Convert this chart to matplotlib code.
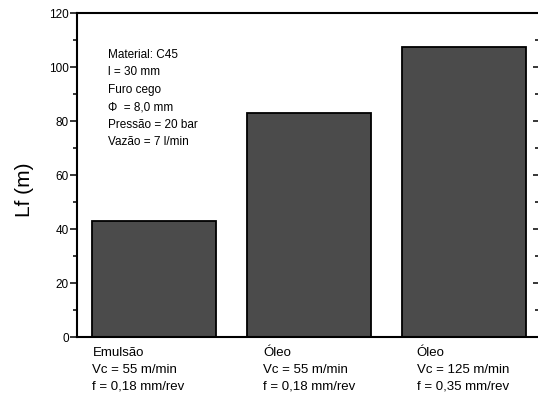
import matplotlib
matplotlib.use("Agg")
import matplotlib.pyplot as plt
from matplotlib.ticker import MultipleLocator
from matplotlib.transforms import blended_transform_factory

plt.rcParams['font.family'] = ['Liberation Sans', 'DejaVu Sans']

# Data
categories = ["Emulsão\nVc = 55 m/min\nf = 0,18 mm/rev",
              "Óleo\nVc = 55 m/min\nf = 0,18 mm/rev",
              "Óleo\nVc = 125 m/min\nf = 0,35 mm/rev"]
lf_values = [43, 83, 107.5]
info_lines = ["Material: C45", "l = 30 mm", "Furo cego",
              "\u03a6  = 8,0 mm", "Pressão = 20 bar", "Vazão = 7 l/min"]
y_ticks = [0, 20, 40, 60, 80, 100, 120]

fig = plt.figure(figsize=(5.38, 3.98), dpi=100)
# right edge sits just past the canvas so the right spine is cut off
ax = fig.add_axes([77 / 538, 1 - 337.3 / 398, 464 / 538, 324 / 398])

x = range(len(lf_values))
ax.bar(x, lf_values, width=0.8, color='#4b4b4b', edgecolor='black', linewidth=1.3)

ax.set_xlim(-0.5, 2.5)
ax.set_ylim(0, 120)
ax.set_yticks(y_ticks)
ax.yaxis.set_minor_locator(MultipleLocator(10))
ax.set_xticks([])

for s in ax.spines.values():
    s.set_linewidth(1.5)

ax.tick_params(axis='y', which='major', direction='out', length=5, width=1.1,
               labelsize=8.5, pad=1, right=True)
ax.tick_params(axis='y', which='minor', direction='out', length=3, width=1.1, right=True)
# ticks on the right side point inward
for t in ax.yaxis.get_major_ticks():
    t.tick2line.set_marker(matplotlib.lines.TICKLEFT)
    t.tick2line.set_markersize(6)
for t in ax.yaxis.get_minor_ticks():
    t.tick2line.set_marker(matplotlib.lines.TICKLEFT)
    t.tick2line.set_markersize(4)

fig.text(24 / 538, 1 - 190 / 398, "Lf (m)", rotation=90, fontsize=15,
         ha='center', va='center')

# condition labels under each bar
trans = blended_transform_factory(ax.transData, ax.transAxes)
label_left = [-0.4, 0.703, 1.697]
for xl, txt in zip(label_left, categories):
    ax.text(xl, -0.03, txt, transform=trans, ha='left', va='top',
            fontsize=9.5, linespacing=1.55, clip_on=False)

# experiment conditions box
ax.text(-0.297, 0.89, "\n".join(info_lines), transform=trans, ha='left', va='top',
        fontsize=8.5, linespacing=1.6)

fig.savefig("out.png", dpi=100)
